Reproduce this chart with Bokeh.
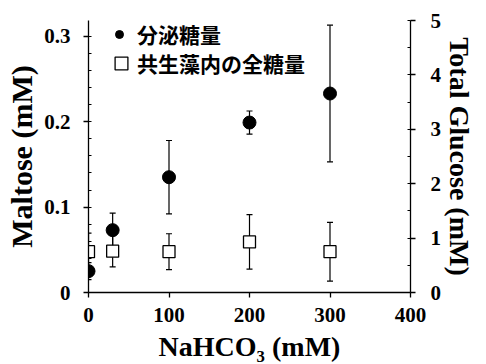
from bokeh.plotting import figure
from bokeh.models import (Range1d, LinearAxis, FixedTicker, Whisker, TeeHead,
                          ColumnDataSource, Legend, LegendItem)
from bokeh.embed import file_html
from bokeh.resources import INLINE

# ---- data ----
conc = [0, 30, 100, 200, 300]
maltose = [0.025, 0.073, 0.135, 0.199, 0.233]
maltose_err = [0.010, 0.020, 0.043, 0.0135, 0.080]
glucose = [0.75, 0.76, 0.75, 0.93, 0.75]
glucose_err = [0.34, 0.29, 0.33, 0.50, 0.54]

x_ticks = [0, 100, 200, 300, 400]
left_ticks = [0, 0.1, 0.2, 0.3]
right_ticks = [0, 1, 2, 3, 4, 5]
label_secreted = "分泌糖量"
label_total = "共生藻内の全糖量"

SERIF = "Liberation Serif"
CJK = "Noto Sans CJK JP"

p = figure(width=486, height=364, output_backend="svg", toolbar_location=None,
           x_range=Range1d(0, 400), y_range=Range1d(0, 0.3185),
           min_border_left=88, min_border_right=76, min_border_top=20,
           min_border_bottom=71)
p.extra_y_ranges = {"right": Range1d(0, 5)}
p.outline_line_color = None
p.xgrid.visible = False
p.ygrid.visible = False
p.background_fill_color = "white"

src_m = ColumnDataSource(dict(x=conc, y=maltose,
                              lo=[a - b for a, b in zip(maltose, maltose_err)],
                              hi=[a + b for a, b in zip(maltose, maltose_err)]))
src_g = ColumnDataSource(dict(x=conc, y=glucose,
                              lo=[a - b for a, b in zip(glucose, glucose_err)],
                              hi=[a + b for a, b in zip(glucose, glucose_err)]))

wm = Whisker(source=src_m, base="x", upper="hi", lower="lo",
             upper_head=TeeHead(size=6, line_width=1.2),
             lower_head=TeeHead(size=6, line_width=1.2), line_width=1.2,
             line_color="black")
wg = Whisker(source=src_g, base="x", upper="hi", lower="lo", y_range_name="right",
             upper_head=TeeHead(size=6, line_width=1.2),
             lower_head=TeeHead(size=6, line_width=1.2), line_width=1.2,
             line_color="black")
p.add_layout(wm)
p.add_layout(wg)

rg = p.scatter("x", "y", source=src_g, y_range_name="right", marker="square",
               size=12, fill_color="white", line_color="black", line_width=1.3)
rm = p.scatter("x", "y", source=src_m, marker="circle", size=13,
               fill_color="black", line_color="black")

# x axis
xa = p.xaxis[0]
xa.ticker = FixedTicker(ticks=x_ticks)
xa.axis_label = "NaHCO₃ (mM)"

# left axis
ya = p.yaxis[0]
ya.ticker = FixedTicker(ticks=left_ticks,
                        minor_ticks=[i * 0.02 for i in range(16)])
ya.major_label_overrides = {0: "0"}
ya.axis_label = "Maltose (mM)"

# right axis
ra = LinearAxis(y_range_name="right", axis_label="Total Glucose (mM)")
ra.ticker = FixedTicker(ticks=right_ticks, minor_ticks=[i * 0.5 for i in range(11)])
p.add_layout(ra, "right")

for ax in (xa, ya, ra):
    ax.axis_line_color = "black"
    ax.axis_line_width = 1.3
    ax.major_tick_line_color = "black"
    ax.major_tick_line_width = 1.3
    ax.major_tick_out = 5
    ax.major_tick_in = 0
    ax.minor_tick_line_color = "black"
    ax.minor_tick_in = 3
    ax.minor_tick_out = 0
    ax.major_label_text_font = SERIF
    ax.major_label_text_font_style = "bold"
    ax.major_label_text_font_size = "21px"
    ax.major_label_text_color = "black"
    ax.axis_label_text_font = SERIF
    ax.axis_label_text_font_style = "bold"
    ax.axis_label_text_color = "black"

xa.axis_label_text_font_size = "28px"
ya.axis_label_text_font_size = "30px"
ra.axis_label_text_font_size = "28px"

xa.minor_tick_line_color = None
xa.major_label_standoff = 10
xa.axis_label_standoff = 6
ya.major_label_standoff = 13
ya.axis_label_standoff = 3
ra.major_label_standoff = 15
ra.axis_label_standoff = 0

# legends
leg1 = Legend(items=[LegendItem(label=label_secreted, renderers=[rm])],
              location=(21, 243), glyph_width=20, glyph_height=20,
              label_standoff=8, padding=0, margin=0, spacing=0,
              background_fill_alpha=0, border_line_alpha=0,
              label_text_font=CJK, label_text_font_style="bold",
              label_text_font_size="21px", label_text_color="black")
leg2 = Legend(items=[LegendItem(label=label_total, renderers=[rg])],
              location=(17, 213), glyph_width=32, glyph_height=32,
              label_standoff=0, padding=0, margin=0, spacing=0,
              background_fill_alpha=0, border_line_alpha=0,
              label_text_font=CJK, label_text_font_style="bold",
              label_text_font_size="21px", label_text_color="black")
p.add_layout(leg1)
p.add_layout(leg2)

open("out.html", "w").write(file_html(p, INLINE))
